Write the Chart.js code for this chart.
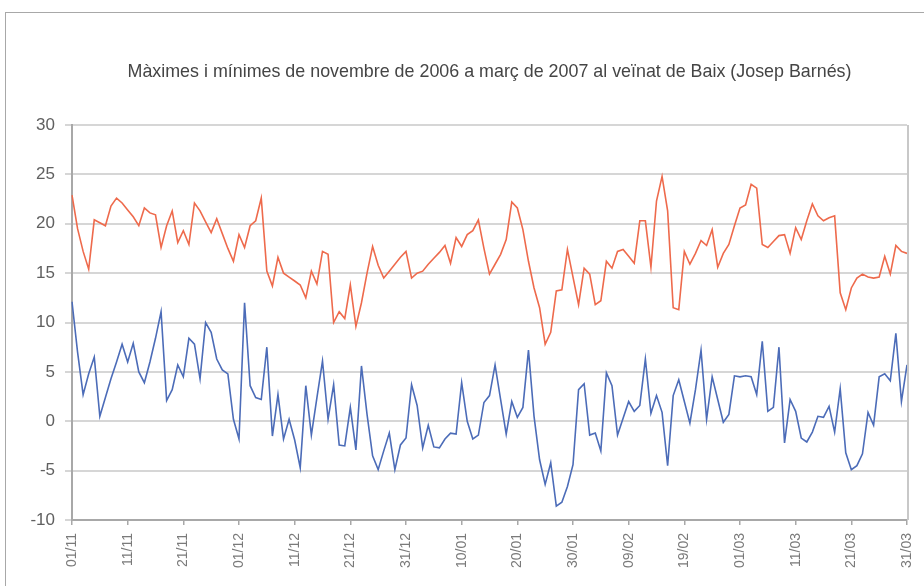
<!DOCTYPE html>
<html>
<head>
<meta charset="utf-8">
<script src="https://cdn.jsdelivr.net/npm/chart.js@4.4.1/dist/chart.umd.min.js"></script>
<style>
html,body{margin:0;padding:0;background:#fff;}
#wrap{width:924px;height:586px;position:relative;}
</style>
</head>
<body>
<div id="wrap"><canvas id="c" width="924" height="586"></canvas></div>
<script>
const titleText = "Màximes i mínimes de novembre de 2006 a març de 2007 al veïnat de Baix (Josep Barnés)";
const months = [["11", 30], ["12", 31], ["01", 31], ["02", 28], ["03", 31]];
const categories = [];
months.forEach(([m, n]) => { for (let d = 1; d <= n; d++) categories.push(String(d).padStart(2, "0") + "/" + m); });
const tickLabels = ["01/11","11/11","21/11","01/12","11/12","21/12","31/12","10/01","20/01","30/01","09/02","19/02","01/03","11/03","21/03","31/03"];

const maxima = [
22.9,19.5,17.2,15.4,20.4,20.1,19.8,21.8,22.6,22.1,
21.4,20.7,19.8,21.6,21.1,20.9,17.6,19.8,21.3,18.1,
19.3,17.9,22.1,21.3,20.2,19.1,20.5,19.0,17.5,16.2,
18.9,17.6,19.8,20.3,22.6,15.2,13.7,16.6,15.0,14.6,
14.2,13.8,12.5,15.2,13.9,17.2,16.9,10.0,11.1,10.4,
13.8,9.6,12.0,15.0,17.7,15.8,14.5,15.2,15.9,16.6,
17.2,14.5,15.0,15.2,15.9,16.5,17.1,17.8,16.0,18.6,
17.7,18.9,19.3,20.4,17.5,14.9,15.9,16.9,18.4,22.2,
21.6,19.4,16.2,13.5,11.5,7.8,9.0,13.2,13.3,17.4,
14.6,11.8,15.5,14.9,11.8,12.2,16.2,15.5,17.2,17.4,
16.7,16.0,20.3,20.3,15.6,22.3,24.8,21.3,11.5,11.3,
17.2,15.9,17.0,18.3,17.8,19.4,15.6,17.0,17.9,19.8,
21.6,21.9,24.0,23.6,17.9,17.6,18.2,18.8,18.9,17.0,
19.6,18.4,20.3,22.0,20.8,20.3,20.6,20.8,13.0,11.3,
13.5,14.5,14.9,14.6,14.5,14.6,16.7,14.9,17.8,17.2,
17.0];

const minima = [
12.1,7.0,2.7,4.8,6.5,0.5,2.4,4.3,6.0,7.8,
6.0,7.9,5.0,3.9,6.0,8.4,11.1,2.1,3.2,5.7,
4.5,8.4,7.8,4.3,10.0,9.0,6.3,5.2,4.8,0.2,
-1.8,12.0,3.6,2.4,2.2,7.5,-1.5,2.7,-1.8,0.2,
-1.9,-4.7,3.6,-1.4,2.4,6.1,0.2,3.7,-2.4,-2.5,
1.4,-2.9,5.6,0.7,-3.5,-4.9,-3.0,-1.2,-4.9,-2.4,
-1.7,3.7,1.6,-2.7,-0.4,-2.6,-2.7,-1.8,-1.2,-1.3,
3.9,0.0,-1.8,-1.4,1.9,2.6,5.7,2.2,-1.3,2.0,
0.4,1.4,7.2,0.5,-3.9,-6.4,-4.2,-8.6,-8.2,-6.6,
-4.4,3.2,3.8,-1.4,-1.2,-3.0,4.9,3.6,-1.4,0.3,
2.0,1.0,1.6,6.3,0.8,2.6,0.9,-4.5,2.6,4.2,
2.0,-0.2,3.2,7.2,0.2,4.5,2.2,-0.1,0.7,4.6,
4.5,4.6,4.5,2.7,8.1,1.0,1.4,7.5,-2.2,2.2,
1.0,-1.7,-2.1,-1.1,0.5,0.4,1.5,-1.1,3.3,-3.2,
-4.9,-4.5,-3.3,0.9,-0.4,4.5,4.8,4.1,8.9,2.0,
5.7];

const yTicks = [-10, -5, 0, 5, 10, 15, 20, 25, 30];

const FONT = '"Liberation Sans Narrow", "Liberation Sans", Arial, sans-serif';

function drawNarrow(ctx, text, x, y, size, scaleX) {
  ctx.save();
  ctx.font = size + 'px ' + FONT;
  ctx.translate(x, y);
  ctx.scale(scaleX, 1);
  ctx.fillText(text, 0, 0);
  ctx.restore();
}

const decor = {
  id: 'decor',
  beforeDraw(chart) {
    const ctx = chart.ctx;
    ctx.save();
    ctx.fillStyle = '#fff';
    ctx.fillRect(0, 0, chart.width, chart.height);
    ctx.strokeStyle = '#a8a8a8';
    ctx.lineWidth = 1;
    ctx.strokeRect(5.5, 12.5, 1200, 1200);
    ctx.restore();
  },
  afterDraw(chart) {
    const ctx = chart.ctx;
    const a = chart.chartArea;
    ctx.save();
    ctx.strokeStyle = '#c8c8c8';
    ctx.lineWidth = 2;
    ctx.beginPath();
    ctx.moveTo(a.right + 1, a.top);
    ctx.lineTo(a.right + 1, a.bottom);
    ctx.stroke();
    ctx.fillStyle = '#454545';
    ctx.font = '19px ' + FONT;
    const w = ctx.measureText(titleText).width;
    const target = 724;
    ctx.textAlign = 'center';
    ctx.textBaseline = 'middle';
    drawNarrow(ctx, titleText, (a.left + a.right) / 2, 72, 19, target / w);
    ctx.restore();
  }
};

new Chart(document.getElementById('c'), {
  type: 'line',
  data: {
    labels: categories,
    datasets: [
      { label: 'Màximes', data: maxima, borderColor: '#ee6a4c', borderWidth: 1.6, pointRadius: 0, tension: 0, fill: false },
      { label: 'Mínimes', data: minima, borderColor: '#4c6cb8', borderWidth: 1.6, pointRadius: 0, tension: 0, fill: false }
    ]
  },
  options: {
    responsive: false,
    animation: false,
    events: [],
    layout: { padding: { left: 5, right: 17, top: 125, bottom: 0 } },
    plugins: { legend: { display: false }, title: { display: false }, tooltip: { enabled: false } },
    scales: {
      x: {
        type: 'category',
        offset: false,
        border: { display: true, color: '#a8a8a8', width: 2 },
        grid: { display: true, drawOnChartArea: false, drawTicks: true, tickLength: 5, color: '#a8a8a8', lineWidth: 1.5 },
        ticks: {
          autoSkip: false,
          maxRotation: 90,
          minRotation: 90,
          padding: 8,
          color: '#7a7a7a',
          font: { family: FONT, size: 14 },
          callback: function (value, index) {
            const lab = categories[index];
            return tickLabels.includes(lab) ? lab : null;
          }
        },
        afterFit(scale) { scale.height = 66; scale.paddingRight = 0; scale.paddingLeft = 0; }
      },
      y: {
        min: -10,
        max: 30,
        border: { display: true, color: '#a8a8a8', width: 2 },
        grid: { color: '#d6d6d6', lineWidth: 2, tickLength: 7, drawTicks: true },
        ticks: {
          stepSize: 5,
          padding: 10,
          color: '#606060',
          font: { family: FONT, size: 17 },
          callback: function (v) { return yTicks.includes(v) ? String(v) : null; }
        },
        afterFit(scale) { scale.width = 67; }
      }
    }
  },
  plugins: [decor]
});
</script>
</body>
</html>
